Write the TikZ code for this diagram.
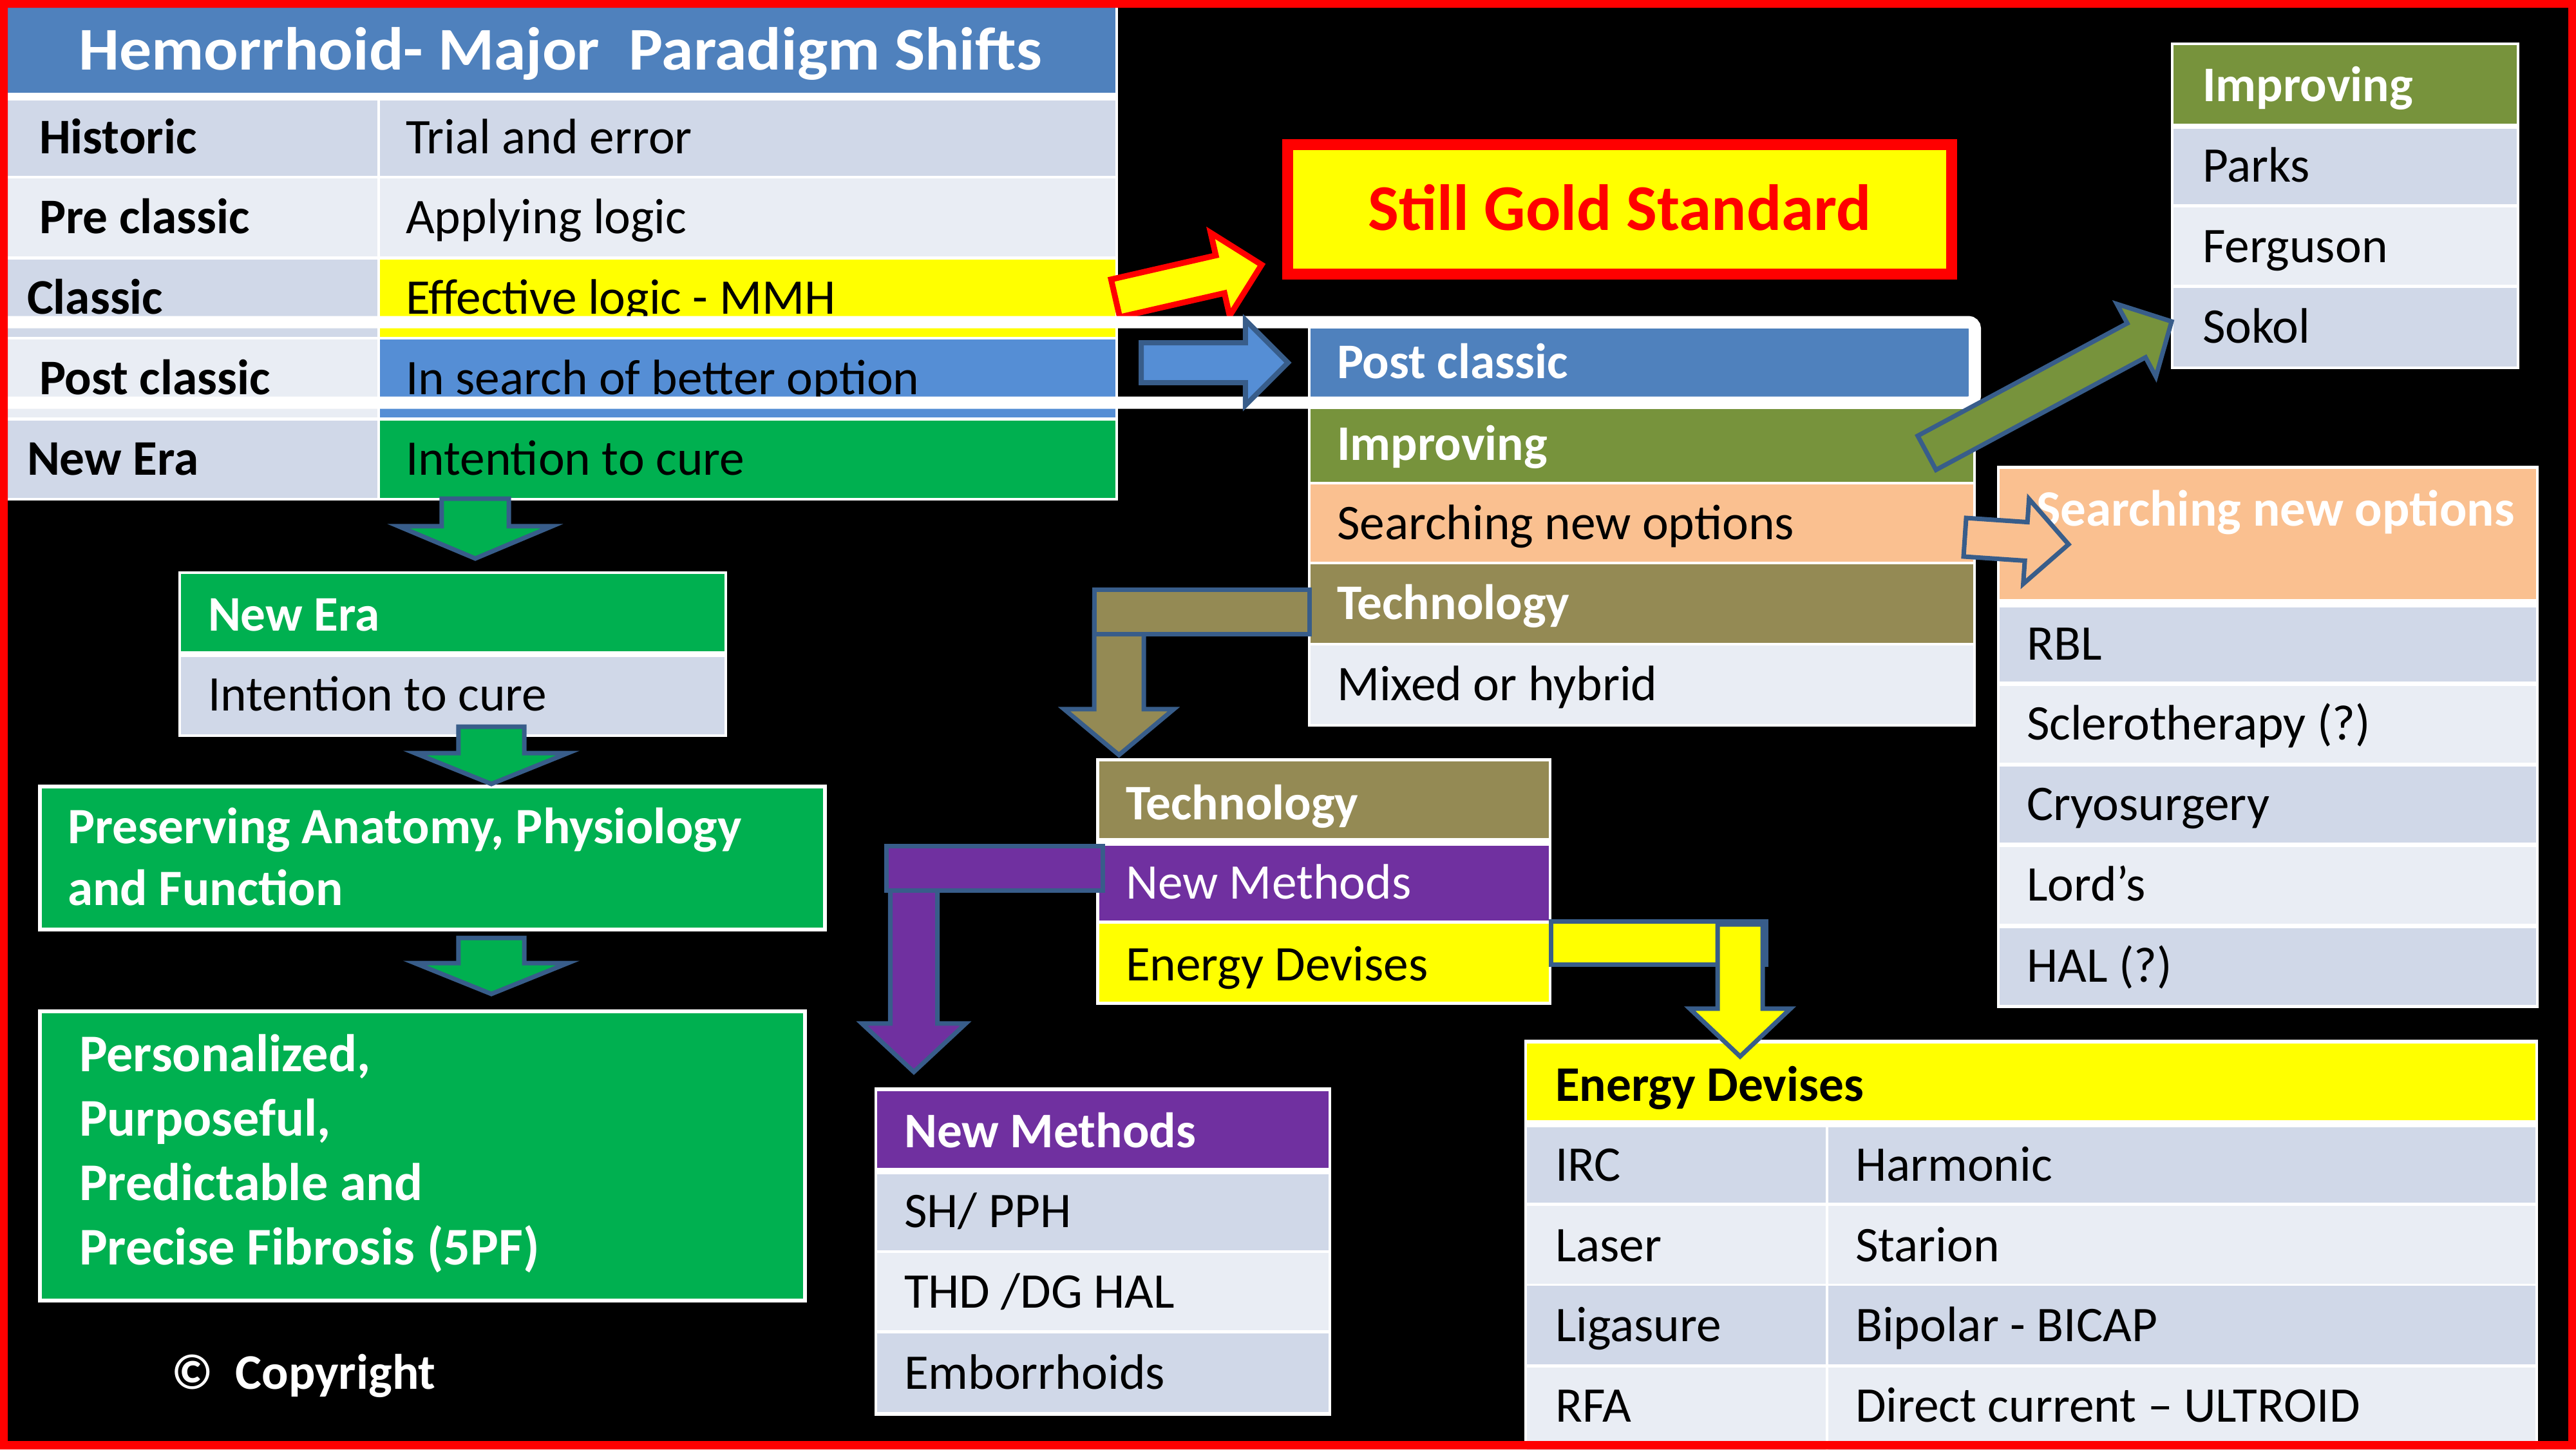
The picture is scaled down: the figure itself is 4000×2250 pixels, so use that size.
\documentclass[tikz,border=0pt]{standalone}
\usepackage{fontspec}
\setmainfont{Carlito}
\usetikzlibrary{calc}
\definecolor{tblue}{HTML}{4F81BD}
\definecolor{rowA}{HTML}{D0D8E8}
\definecolor{rowB}{HTML}{E9EDF4}
\definecolor{lblue}{HTML}{558ED5}
\definecolor{mgreen}{HTML}{00B050}
\definecolor{olivegr}{HTML}{77933C}
\definecolor{peach}{HTML}{FAC090}
\definecolor{khaki}{HTML}{948A54}
\definecolor{purp}{HTML}{7030A0}
\definecolor{arrowline}{HTML}{385D8A}
\definecolor{yel}{HTML}{FFFF00}
\definecolor{rd}{HTML}{FF0000}
\newcommand\fbody{\fontsize{22pt}{27pt}\selectfont}
\newcommand\blockarrow[6]{%
  \coordinate (bah) at ($(#3)!#6!(#2)$);
  \draw[#1] ($(#2)!#4!90:(#3)$) -- ($(bah)!#4!90:(#3)$) -- ($(bah)!#5!90:(#3)$) -- (#3)
    -- ($(bah)!#5!-90:(#3)$) -- ($(bah)!#4!-90:(#3)$) -- ($(#2)!#4!-90:(#3)$) -- cycle;}
\tikzset{
  txt/.style={anchor=west, inner sep=0pt, outer sep=0pt, text height=0.49cm, text depth=0pt, font=\fbody},
  hdr/.style={txt, font=\fbody\bfseries},
  arr/.style={draw=arrowline, line width=0.07cm, line join=miter},
}
\begin{document}
\begin{tikzpicture}[x=0.01cm, y=-0.01cm]
\useasboundingbox (0,0) rectangle (4000,2250);
\fill[black] (0,0) rectangle (4000,2250);

% ---------------- left table
\fill[white] (8,8) rectangle (1736,777);
\fill[tblue] (12,12) rectangle (1732,144);
\node[inner sep=0pt, text=white, text height=0.6cm, text depth=0pt,
      font=\fontsize{26.8pt}{32pt}\selectfont\bfseries] (title) at (870,78) {\scalebox{1.06}[1]{Hemorrhoid- Major\ \ Paradigm Shifts}};
\fill[rowA] (12,156) rectangle (586,273);  \fill[rowA] (590,156) rectangle (1732,273);
\fill[rowB] (12,277) rectangle (586,398);  \fill[rowB] (590,277) rectangle (1732,398);
\fill[rowA] (12,403) rectangle (586,523);  \fill[yel]  (590,403) rectangle (1732,523);
\fill[rowB] (12,527) rectangle (586,648);  \fill[lblue] (590,527) rectangle (1732,648);
\fill[rowA] (12,653) rectangle (586,773);  \fill[mgreen] (590,653) rectangle (1732,773);
\node[hdr] (l1a) at (61,214) {Historic};      \node[txt] (l1b) at (630,214) {Trial and error};
\node[hdr] (l2a) at (61,338) {Pre classic};   \node[txt] (l2b) at (630,338) {Applying logic};
\node[hdr] (l3a) at (42,463) {Classic};       \node[txt] (l3b) at (630,463) {Effective logic - MMH};
\node[hdr] (l4a) at (61,588) {Post classic};  \node[txt] (l4b) at (630,588) {In search of better option};
\node[hdr] (l5a) at (42,713) {New Era};       \node[txt] (l5b) at (630,713) {Intention to cure};

% ---------------- centre table (Post classic)
\fill[white] (2031,505) rectangle (3068,1128);
\fill[tblue]   (2035,510) rectangle (3057,616);
\fill[olivegr] (2035,635) rectangle (3064,748);
\fill[peach]   (2035,752) rectangle (3064,872);
\fill[khaki]   (2035,876) rectangle (3064,998);
\fill[rowB]    (2035,1002) rectangle (3064,1124);
\node[hdr, text=white] (pc) at (2076,563) {Post classic};
\node[hdr, text=white] (imp) at (2076,690) {Improving};
\node[txt] (srch) at (2076,813) {Searching new options};
\node[hdr, text=white] (tech) at (2076,937) {Technology};
\node[txt] (mix) at (2076,1063) {Mixed or hybrid};

% ---------------- still gold standard
\node[draw=rd, fill=yel, line width=0.17cm, minimum width=10.3cm, minimum height=2cm,
      text=rd, inner sep=0pt, text height=0.64cm, text depth=0pt,
      font=\fontsize{28.8pt}{34pt}\selectfont\bfseries] (gold) at (2515,325) {Still Gold Standard};
\coordinate (ya1) at (1732,463);
\coordinate (ya2) at (1959,411);
\blockarrow{fill=yel, draw=rd, line width=0.09cm, line join=miter}{ya1}{ya2}{0.30cm}{0.66cm}{0.66cm}

% ---------------- white highlight frame
\draw[white, line width=0.19cm, rounded corners=0.1cm] (-30,500) rectangle (3066.5,625);

\coordinate (ba1) at (1772,563);
\coordinate (ba2) at (2000,563);
\blockarrow{arr, fill=lblue, line width=0.08cm}{ba1}{ba2}{0.31cm}{0.66cm}{0.66cm}

% ---------------- top right table (Improving)
\fill[white] (3371,66) rectangle (3912,573);
\fill[olivegr] (3375,70) rectangle (3908,192);
\fill[rowA] (3375,200) rectangle (3908,317);
\fill[rowB] (3375,322) rectangle (3908,442);
\fill[rowA] (3375,447) rectangle (3908,569);
\node[hdr, text=white] (ti) at (3420,133) {Improving};
\node[txt] (tparks) at (3420,258) {Parks};
\node[txt] (tferg) at (3420,383) {Ferguson};
\node[txt] (tsok) at (3420,508) {Sokol};

% ---------------- searching new options table
\fill[white] (3101,723) rectangle (3942,1565);
\fill[peach] (3105,728) rectangle (3938,930);
\fill[rowA] (3105,943) rectangle (3938,1058);
\fill[rowB] (3105,1065) rectangle (3938,1184);
\fill[rowA] (3105,1190) rectangle (3938,1308);
\fill[rowB] (3105,1315) rectangle (3938,1434);
\fill[rowA] (3105,1441) rectangle (3938,1560);
\node[hdr, text=white, text height=0.52cm, font=\fontsize{22.5pt}{28pt}\selectfont\bfseries] (sh) at (3162,790) {Searching new options};
\node[txt] (s1) at (3147,1000) {RBL};
\node[txt] (s2) at (3147,1124) {Sclerotherapy (?)};
\node[txt] (s3) at (3147,1249) {Cryosurgery};
\node[txt] (s4) at (3147,1374) {Lord’s};
\node[txt] (s5) at (3147,1500) {HAL (?)};

\coordinate (ga1) at (2992,703);
\coordinate (ga2) at (3372,499);
\blockarrow{arr, fill=olivegr}{ga1}{ga2}{0.30cm}{0.64cm}{0.62cm}
\coordinate (pa1) at (3051,834);
\coordinate (pa2) at (3212,845);
\blockarrow{arr, fill=peach}{pa1}{pa2}{0.30cm}{0.66cm}{0.66cm}

% ---------------- technology table
\fill[white] (1702,1177) rectangle (2409,1560);
\fill[khaki] (1707,1182) rectangle (2405,1301);
\fill[purp]  (1707,1313) rectangle (2405,1429);
\fill[yel]   (1707,1434) rectangle (2405,1555);
\node[hdr, text=white] (tt) at (1748,1248) {Technology};
\node[txt, text=white] (tnm) at (1748,1371) {New Methods};
\node[txt] (ted) at (1748,1498) {Energy Devises};

\coordinate (ta1) at (1737.5,950);
\coordinate (ta2) at (1737.5,1172);
\blockarrow{arr, fill=khaki}{ta1}{ta2}{0.385cm}{0.85cm}{0.71cm}
\draw[arr, fill=khaki] (1699,915) rectangle (2033,984);

% ---------------- new methods table
\fill[white] (1358,1688) rectangle (2067,2198);
\fill[purp] (1362,1694) rectangle (2063,1813);
\fill[rowA] (1362,1823) rectangle (2063,1941);
\fill[rowB] (1362,1945) rectangle (2063,2065);
\fill[rowA] (1362,2070) rectangle (2063,2192);
\node[hdr, text=white] (nm) at (1404,1757) {New Methods};
\node[txt] (nm1) at (1404,1881) {SH/ PPH};
\node[txt] (nm2) at (1404,2006) {THD /DG HAL};
\node[txt] (nm3) at (1404,2132) {Emborrhoids};

\coordinate (pu1) at (1419,1350);
\coordinate (pu2) at (1419,1664);
\blockarrow{arr, fill=purp}{pu1}{pu2}{0.365cm}{0.805cm}{0.75cm}
\draw[arr, fill=purp] (1376,1313) rectangle (1712,1382);

% ---------------- energy devises table
\fill[white] (2367,1614) rectangle (3941,2260);
\fill[yel] (2371,1620) rectangle (3937,1739);
\fill[rowA] (2371,1750) rectangle (2835,1867); \fill[rowA] (2839,1750) rectangle (3937,1867);
\fill[rowB] (2371,1872) rectangle (2835,1993); \fill[rowB] (2839,1872) rectangle (3937,1993);
\fill[rowA] (2371,1996) rectangle (2835,2118); \fill[rowA] (2839,1996) rectangle (3937,2118);
\fill[rowB] (2371,2123) rectangle (2835,2260); \fill[rowB] (2839,2123) rectangle (3937,2260);
\node[hdr] (eh) at (2415,1685) {Energy Devises};
\node[txt] (e1a) at (2415,1809) {IRC};      \node[txt] (e1b) at (2881,1809) {Harmonic};
\node[txt] (e2a) at (2415,1934) {Laser};    \node[txt] (e2b) at (2881,1934) {Starion};
\node[txt] (e3a) at (2415,2058) {Ligasure}; \node[txt] (e3b) at (2881,2058) {Bipolar - BICAP};
\node[txt] (e4a) at (2415,2183) {RFA};      \node[txt] (e4b) at (2881,2183) {Direct current – ULTROID};

\draw[arr, fill=yel] (2408,1430) rectangle (2742,1497);
\coordinate (ea1) at (2702,1435);
\coordinate (ea2) at (2702,1640);
\blockarrow{arr, fill=yel}{ea1}{ea2}{0.35cm}{0.78cm}{0.74cm}

% ---------------- left flow
\fill[white] (277,887) rectangle (1129,1144);
\fill[mgreen] (281,891) rectangle (1125,1011);
\fill[rowA] (281,1020) rectangle (1125,1140);
\node[hdr, text=white] (ne) at (323,955) {New Era};
\node[txt] (ne2) at (323,1079) {Intention to cure};

\draw[white, line width=0.06cm, fill=mgreen] (62,1221) rectangle (1281,1443);
\node[hdr, text=white, font=\fontsize{22.5pt}{27pt}\selectfont\bfseries] (pr1) at (105,1285) {Preserving Anatomy, Physiology};
\node[hdr, text=white, font=\fontsize{22.5pt}{27pt}\selectfont\bfseries] (pr2) at (105,1381) {and Function};

\draw[white, line width=0.06cm, fill=mgreen] (62,1570) rectangle (1250,2019);
\tikzset{pers/.style={hdr, text=white, text height=0.52cm, font=\fontsize{23.4pt}{28pt}\selectfont\bfseries}}
\node[pers] (pe1) at (123,1637) {Personalized,};
\node[pers] (pe2) at (123,1737) {Purposeful,};
\node[pers] (pe3) at (123,1837) {Predictable and};
\node[pers] (pe4) at (123,1937) {Precise Fibrosis (5PF)};

\node[hdr, text=white] (copy) at (266,2132) {©\ \ Copyright};

\coordinate (g1a) at (738,774);
\coordinate (g1b) at (738,867);
\blockarrow{arr, fill=mgreen}{g1a}{g1b}{0.52cm}{1.19cm}{0.50cm}
\coordinate (g2a) at (763,1128);
\coordinate (g2b) at (763,1217);
\blockarrow{arr, fill=mgreen}{g2a}{g2b}{0.51cm}{1.19cm}{0.48cm}
\coordinate (g3a) at (763,1456);
\coordinate (g3b) at (763,1543);
\blockarrow{arr, fill=mgreen}{g3a}{g3b}{0.51cm}{1.19cm}{0.48cm}

% ---------------- red frame
\fill[rd, even odd rule] (0,0) rectangle (4000,2250) (12,12) rectangle (3988,2237);
\end{tikzpicture}
\end{document}
